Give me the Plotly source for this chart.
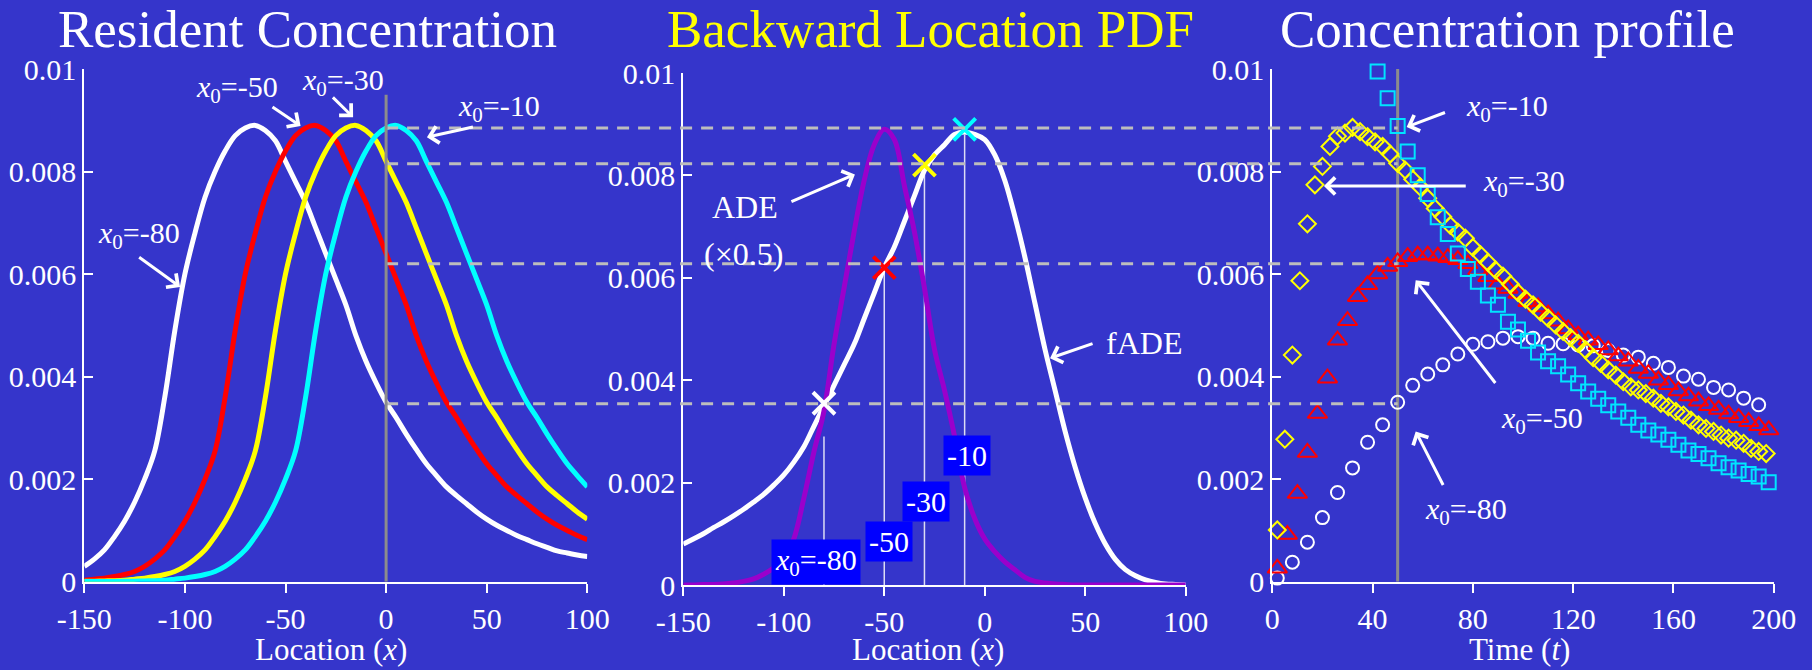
import plotly.graph_objects as go

W, H = 1812, 670
BG = '#3535CB'
FONT = 'Liberation Serif, Times New Roman, serif'

# ---------------- data ----------------
# Panel 1: resident concentration vs location (x = -150..100, step 5)
loc_x = [-150, -145, -140, -135, -130, -125, -120, -115, -110, -105, -100, -95, -90, -85, -80,
         -75, -70, -65, -60, -55, -50, -45, -40, -35, -30, -25, -20, -15, -10, -5, 0,
         5, 10, 15, 20, 25, 30, 35, 40, 45, 50, 55, 60, 65, 70, 75, 80, 85, 90, 95, 100]

res_x0_m80 = [0.0003, 0.00044, 0.00062, 0.00088, 0.00118, 0.00155, 0.0020, 0.00255, 0.0036, 0.0049,
              0.0060, 0.0068, 0.0075, 0.0080, 0.0084, 0.0087, 0.00885, 0.0089, 0.0088, 0.0086,
              0.0082, 0.0078, 0.0074, 0.0069, 0.0064, 0.0059, 0.0054, 0.0048, 0.0043, 0.00388,
              0.0035, 0.0032, 0.00288, 0.00258, 0.0023, 0.00207, 0.00185, 0.00168, 0.00152, 0.00136,
              0.00122, 0.0011, 0.0010, 0.0009, 0.00082, 0.00074, 0.00067, 0.0006, 0.00056, 0.00052, 0.00049]
res_x0_m50 = [0.00003, 0.00005, 0.00007, 0.0001, 0.00014, 0.0002,
              0.0003, 0.00044, 0.00062, 0.00088, 0.00118, 0.00155, 0.0020, 0.00255, 0.0036, 0.0049,
              0.0060, 0.0068, 0.0075, 0.0080, 0.0084, 0.0087, 0.00885, 0.0089, 0.0088, 0.0086,
              0.0082, 0.0078, 0.0074, 0.0069, 0.0064, 0.0059, 0.0054, 0.0048, 0.0043, 0.00388,
              0.0035, 0.0032, 0.00288, 0.00258, 0.0023, 0.00207, 0.00185, 0.00168, 0.00152, 0.00136,
              0.00122, 0.0011, 0.0010, 0.0009, 0.00082]
res_x0_m30 = [0.000008, 0.00001, 0.000015, 0.00002, 0.00003, 0.00005, 0.00007, 0.0001, 0.00014, 0.0002,
              0.0003, 0.00044, 0.00062, 0.00088, 0.00118, 0.00155, 0.0020, 0.00255, 0.0036, 0.0049,
              0.0060, 0.0068, 0.0075, 0.0080, 0.0084, 0.0087, 0.00885, 0.0089, 0.0088, 0.0086,
              0.0082, 0.0078, 0.0074, 0.0069, 0.0064, 0.0059, 0.0054, 0.0048, 0.0043, 0.00388,
              0.0035, 0.0032, 0.00288, 0.00258, 0.0023, 0.00207, 0.00185, 0.00168, 0.00152, 0.00136,
              0.00122]
res_x0_m10 = [0.000002, 0.000003, 0.000004, 0.000005, 0.000008, 0.00001, 0.000015, 0.00002, 0.00003,
              0.00005, 0.00007, 0.0001, 0.00014, 0.0002,
              0.0003, 0.00044, 0.00062, 0.00088, 0.00118, 0.00155, 0.0020, 0.00255, 0.0036, 0.0049,
              0.0060, 0.0068, 0.0075, 0.0080, 0.0084, 0.0087, 0.00885, 0.0089, 0.0088, 0.0086,
              0.0082, 0.0078, 0.0074, 0.0069, 0.0064, 0.0059, 0.0054, 0.0048, 0.0043, 0.00388,
              0.0035, 0.0032, 0.00288, 0.00258, 0.0023, 0.00207, 0.00185]

# Panel 2: backward location PDF (fADE) and ADE (x0.5)
fade_pdf = [0.0008, 0.0009, 0.0010, 0.00112, 0.00123, 0.00135, 0.00148, 0.00162, 0.00177, 0.00195,
            0.00215, 0.0024, 0.0027, 0.0031, 0.0035, 0.0039, 0.0043, 0.0047, 0.0052, 0.0057,
            0.0062, 0.0066, 0.0071, 0.0076, 0.0081, 0.0084, 0.0086, 0.0088, 0.00885, 0.0088,
            0.0087, 0.0084, 0.0079, 0.0072, 0.0064, 0.0055, 0.0046, 0.0038, 0.0030, 0.0023,
            0.0017, 0.0012, 0.0008, 0.0005, 0.0003, 0.00018, 0.0001, 0.00005, 0.00002, 0.00001, 0.0]
ade_pdf = [0.0, 0.0, 0.00001, 0.00001, 0.00002, 0.00004, 0.00007, 0.00012, 0.00021, 0.00033,
           0.0005, 0.0009, 0.0017, 0.0026, 0.0034, 0.0047, 0.0058, 0.0069, 0.0079, 0.0086,
           0.0089, 0.0087, 0.0078, 0.0069, 0.0058, 0.0046, 0.0038, 0.0029, 0.0019, 0.0013,
           0.0009, 0.00065, 0.00045, 0.0003, 0.00015, 0.00007, 0.00004, 0.00002, 0.00001, 0.0,
           0.0, 0.0, 0.0, 0.0, 0.0, 0.0, 0.0, 0.0, 0.0, 0.0, 0.0]

source_x0 = [-80, -50, -30, -10]
source_colors = ['#FFFFFF', '#FF0000', '#FFFF00', '#00FFFF']
pdf_at_x0 = [0.00355, 0.0062, 0.0082, 0.0089]       # values marked with X in panel 2
drop_top = [0.0029, 0.0062, 0.0081, 0.0088]          # tops of the thin vertical lines
conc_at_obs = [0.00347, 0.0062, 0.00815, 0.00885]    # dashed levels (C at x=0, t=50)
box_labels = ['<i>x</i><sub>0</sub>=-80', '-50', '-30', '-10']
box_pos_x = [-84, -47.6, -29.4, -8.9]
box_pos_y = [0.00045, 0.00085, 0.00163, 0.00253]

# Panel 3: concentration vs time at x = 0
t_circ = [2, 8, 14, 20, 26, 32, 38, 44, 50, 56, 62, 68, 74, 80, 86, 92, 98, 104, 110, 116, 122,
          128, 134, 140, 146, 152, 158, 164, 170, 176, 182, 188, 194]
c_circ = [0.00007, 0.00038, 0.00077, 0.00125, 0.00174, 0.00222, 0.00272, 0.00306, 0.0035, 0.00383,
          0.00405, 0.00423, 0.00444, 0.00463, 0.00468, 0.00475, 0.00478, 0.00475, 0.00465, 0.00464,
          0.00462, 0.0046, 0.00451, 0.00442, 0.00438, 0.00426, 0.00418, 0.00401, 0.00395, 0.00379,
          0.00374, 0.00358, 0.00345]

t_tri = [2, 6, 10, 14, 18, 22, 26, 30, 34, 38, 42, 46, 50, 54, 58, 62, 66, 70, 74, 78, 82, 86, 90,
         94, 98, 102, 106, 110, 114, 118, 122, 126, 130, 134, 138, 142, 146, 150, 154, 158, 162,
         166, 170, 174, 178, 182, 186, 190, 194, 198]
c_tri = [0.00026, 0.00092, 0.00172, 0.00252, 0.00328, 0.00397, 0.00471, 0.00509, 0.00556, 0.00579,
         0.0060, 0.00615, 0.00624, 0.00634, 0.00637, 0.00637, 0.00635, 0.00632, 0.00628, 0.0062,
         0.00608, 0.00595, 0.0058, 0.00572, 0.00562, 0.00546, 0.00536, 0.00522, 0.00508, 0.00493,
         0.00481, 0.00471, 0.00462, 0.00452, 0.0044, 0.0043, 0.00416, 0.00406, 0.00393, 0.00384,
         0.00372, 0.00362, 0.00352, 0.00343, 0.00336, 0.00327, 0.0032, 0.00312, 0.00304, 0.00296]

t_dia = [2, 5, 8, 11, 14, 17, 20, 23, 26, 29, 32, 35, 38, 41, 44, 47, 50, 53, 56, 59, 62, 65, 68,
         71, 74, 77, 80, 83, 86, 89, 92, 95, 98, 101, 104, 107, 110, 113, 116, 119, 122, 125, 128,
         131, 134, 137, 140, 143, 146, 149, 152, 155, 158, 161, 164, 167, 170, 173, 176, 179, 182,
         185, 188, 191, 194, 197]
c_dia = [0.00101, 0.00278, 0.00442, 0.00587, 0.00698, 0.00774, 0.0081, 0.00849, 0.00869, 0.00875,
         0.00886, 0.00878, 0.00868, 0.00858, 0.00849, 0.00834, 0.00816, 0.00803, 0.00785, 0.0077,
         0.00748, 0.00728, 0.00712, 0.00695, 0.00682, 0.0067, 0.00652, 0.00638, 0.00623, 0.00608,
         0.00596, 0.0058, 0.00564, 0.00551, 0.0054, 0.00526, 0.00514, 0.00501, 0.00488, 0.00476,
         0.00465, 0.00452, 0.00437, 0.00426, 0.00413, 0.00403, 0.0039, 0.0038, 0.00374, 0.00367,
         0.00358, 0.00348, 0.00341, 0.00332, 0.00325, 0.00315, 0.00306, 0.00299, 0.00293, 0.00286,
         0.0028, 0.00276, 0.0027, 0.0026, 0.00254, 0.0025]

t_sq = [42, 46, 50, 54, 58, 62, 66, 70, 74, 78, 82, 86, 90, 94, 98, 102, 106, 110, 114, 118, 122,
        126, 130, 134, 138, 142, 146, 150, 154, 158, 162, 166, 170, 174, 178, 182, 186, 190, 194, 198]
c_sq = [0.00995, 0.00943, 0.00889, 0.00839, 0.00793, 0.00756, 0.00711, 0.00678, 0.0064, 0.0061,
        0.00585, 0.00558, 0.0054, 0.00507, 0.00492, 0.0047, 0.00447, 0.0043, 0.0042, 0.00404,
        0.00387, 0.00371, 0.00357, 0.00344, 0.00332, 0.0032, 0.00306, 0.00295, 0.00287, 0.00277,
        0.00267, 0.00256, 0.00249, 0.00241, 0.00231, 0.00223, 0.00217, 0.0021, 0.00205, 0.00194]

x_ticks = [-150, -100, -50, 0, 50, 100]
x_ticktext = ['-150', '-100', '-50', '0', '50', '100']
t_ticks = [0, 40, 80, 120, 160, 200]
y_ticks = [0, 0.002, 0.004, 0.006, 0.008, 0.01]
y_ticktext = ['0', '0.002', '0.004', '0.006', '0.008', '0.01']
obs_x = 0
obs_t = 50

# ---------------- layout geometry ----------------
D1x = [84.3 / W, 587.3 / W]
D1y = [1 - 581.7 / H, 1 - 69 / H]
D2x = [683.3 / W, 1185.7 / W]
D2y = [1 - 585 / H, 1 - 73 / H]
D3x = [1272.3 / W, 1773.7 / W]
D3y = D1y
RX = [-150, 100]
RT = [0, 200]
RY = [0, 0.01]


def to_paper(dom, rng, v):
    return dom[0] + (v - rng[0]) / (rng[1] - rng[0]) * (dom[1] - dom[0])


def pxp(px, py):
    return px / W, 1 - py / H


fig = go.Figure()

# panel 1 curves
for ys, col, name in zip([res_x0_m80, res_x0_m50, res_x0_m30, res_x0_m10], source_colors,
                         ['x0=-80', 'x0=-50', 'x0=-30', 'x0=-10']):
    fig.add_trace(go.Scatter(x=loc_x, y=ys, mode='lines', name=name, xaxis='x', yaxis='y',
                             line=dict(color=col, width=5, shape='spline', smoothing=1.0),
                             showlegend=False, hoverinfo='skip'))

# panel 2 curves
fig.add_trace(go.Scatter(x=loc_x, y=fade_pdf, mode='lines', xaxis='x2', yaxis='y2',
                         line=dict(color='#FFFFFF', width=5, shape='spline', smoothing=1.0),
                         showlegend=False, hoverinfo='skip'))
fig.add_trace(go.Scatter(x=loc_x, y=ade_pdf, mode='lines', xaxis='x2', yaxis='y2',
                         line=dict(color='#9A00CC', width=5, shape='spline', smoothing=1.0),
                         showlegend=False, hoverinfo='skip'))
fig.add_trace(go.Scatter(x=source_x0, y=pdf_at_x0, mode='markers', xaxis='x2', yaxis='y2',
                         marker=dict(symbol='x-thin', size=22, color=source_colors,
                                     line=dict(color=source_colors, width=4)),
                         showlegend=False, hoverinfo='skip', cliponaxis=False))

# panel 3 markers
fig.add_trace(go.Scatter(x=t_circ, y=c_circ, mode='markers', xaxis='x3', yaxis='y3',
                         marker=dict(symbol='circle-open', size=13, color='#FFFFFF',
                                     line=dict(width=2)),
                         showlegend=False, hoverinfo='skip', cliponaxis=False))
fig.add_trace(go.Scatter(x=t_tri, y=c_tri, mode='markers', xaxis='x3', yaxis='y3',
                         marker=dict(symbol='triangle-up-open', size=17, color='#FF0000',
                                     line=dict(width=2)),
                         showlegend=False, hoverinfo='skip', cliponaxis=False))
fig.add_trace(go.Scatter(x=t_dia, y=c_dia, mode='markers', xaxis='x3', yaxis='y3',
                         marker=dict(symbol='diamond-open', size=13, color='#FFFF00',
                                     line=dict(width=2)),
                         showlegend=False, hoverinfo='skip', cliponaxis=False))
fig.add_trace(go.Scatter(x=t_sq, y=c_sq, mode='markers', xaxis='x3', yaxis='y3',
                         marker=dict(symbol='square-open', size=14, color='#00E5FF',
                                     line=dict(width=2)),
                         showlegend=False, hoverinfo='skip', cliponaxis=False))

# ---------------- axes ----------------
tickfont = dict(family=FONT, size=30, color='white')
base = dict(showline=True, linecolor='white', linewidth=2, tickcolor='white', tickwidth=2,
            ticklen=9, tickfont=tickfont, showgrid=False, zeroline=False, fixedrange=True,
            automargin=False)
xbase = dict(base, ticks='outside')
ybase = dict(base, ticks='inside', tickvals=y_ticks, ticktext=y_ticktext, range=RY)

fig.update_layout(
    xaxis=dict(xbase, domain=D1x, range=RX, tickvals=x_ticks, ticktext=x_ticktext, anchor='y'),
    yaxis=dict(ybase, domain=D1y, anchor='x'),
    xaxis2=dict(xbase, domain=D2x, range=RX, tickvals=x_ticks, ticktext=x_ticktext, anchor='y2'),
    yaxis2=dict(ybase, domain=D2y, anchor='x2'),
    xaxis3=dict(xbase, domain=D3x, range=RT, tickvals=t_ticks, anchor='y3'),
    yaxis3=dict(ybase, domain=D3y, anchor='x3'),
)

# ---------------- shapes ----------------
shapes = []
# dashed connector lines: from x=0 in panel 1 to t=50 in panel 3
x_start = to_paper(D1x, RX, obs_x)
x_end = to_paper(D3x, RT, obs_t)
for lev in conc_at_obs:
    yp = to_paper(D1y, RY, lev)
    shapes.append(dict(type='line', xref='paper', yref='paper', x0=x_start, x1=x_end, y0=yp, y1=yp,
                       line=dict(color='#BDBDBD', width=3, dash='12px,9px'), layer='above'))
# observation line x=0 in panel 1
shapes.append(dict(type='line', xref='x', yref='y', x0=obs_x, x1=obs_x, y0=0, y1=0.0095,
                   line=dict(color='#8C8C8C', width=3), layer='above'))
# observation time t=50 in panel 3
shapes.append(dict(type='line', xref='x3', yref='y3', x0=obs_t, x1=obs_t, y0=0, y1=0.01,
                   line=dict(color='#8C8C8C', width=3), layer='below'))
# thin drop lines in panel 2
for xv, top in zip(source_x0, drop_top):
    shapes.append(dict(type='line', xref='x2', yref='y2', x0=xv, x1=xv, y0=0, y1=top,
                       line=dict(color='#DCDCF5', width=1.5), layer='below'))
fig.update_layout(shapes=shapes)

# ---------------- annotations ----------------
ann = []


def text_ann(px, py, text, size=30, color='white', **kw):
    xp, yp = pxp(px, py)
    d = dict(x=xp, y=yp, xref='paper', yref='paper', text=text, showarrow=False,
             xanchor='center', yanchor='middle', font=dict(family=FONT, size=size, color=color))
    d.update(kw)
    ann.append(d)


def arrow(xr, yr, x, y, ax, ay):
    ann.append(dict(x=x, y=y, xref=xr, yref=yr, ax=ax, ay=ay, text='', showarrow=True,
                    arrowhead=4, arrowsize=1.1, arrowwidth=3, arrowcolor='white'))


# titles
text_ann(307.4, 29, 'Resident Concentration', size=53)
text_ann(930.1, 29, 'Backward Location PDF', size=53, color='#FFFF00')
text_ann(1507.4, 29, 'Concentration profile', size=53)
# axis titles
text_ann(331, 649, 'Location (<i>x</i>)', size=31)
text_ann(928, 649, 'Location (<i>x</i>)', size=31)
text_ann(1519, 649, 'Time (<i>t</i>)', size=31)

# panel 1 labels
lab = lambda v: '<i>x</i><sub>0</sub>=' + v
text_ann(237, 89, lab('-50'))
text_ann(343, 82, lab('-30'))
text_ann(499, 108, lab('-10'))
text_ann(138.5, 235, lab('-80'))
arrow('x', 'y', -42.5, 0.00889, -29.6, -20)
arrow('x', 'y', -16.4, 0.00906, -21.7, -21.3)
arrow('x', 'y', 20.3, 0.00867, 47.5, -10.6)
arrow('x', 'y', -102.4, 0.00575, -42.4, -30.7)

# panel 2 labels
text_ann(745, 207.5, 'ADE', size=32)
text_ann(743.5, 254, '(×0.5)', size=32)
text_ann(1144, 343, 'fADE', size=32)
arrow('x2', 'y2', -64.6, 0.00802, -65, 28)
arrow('x2', 'y2', 32.5, 0.00443, 44, -15)
for txt, bx, by in zip(box_labels, box_pos_x, box_pos_y):
    ann.append(dict(x=bx, y=by, xref='x2', yref='y2', text=txt, showarrow=False,
                    xanchor='center', yanchor='middle', bgcolor='#0000FF', borderpad=3,
                    font=dict(family=FONT, size=30, color='white')))

# panel 3 labels
text_ann(1507, 108, lab('-10'))
text_ann(1524, 183, lab('-30'))
text_ann(1541.5, 420, lab('-50'))
text_ann(1465.5, 511, lab('-80'))
arrow('x3', 'y3', 53.6, 0.00887, 39.8, -15)
arrow('x3', 'y3', 20.6, 0.00772, 143.3, 0)
arrow('x3', 'y3', 57.2, 0.00588, 80.8, 104.3)
arrow('x3', 'y3', 57.2, 0.00293, 28.2, 55)

fig.update_layout(annotations=ann)

fig.update_layout(
    width=W, height=H, margin=dict(l=0, r=0, t=0, b=0, pad=0),
    paper_bgcolor=BG, plot_bgcolor=BG, showlegend=False,
    font=dict(family=FONT, color='white'),
)

fig.write_html('out.html', config={'displayModeBar': False})
